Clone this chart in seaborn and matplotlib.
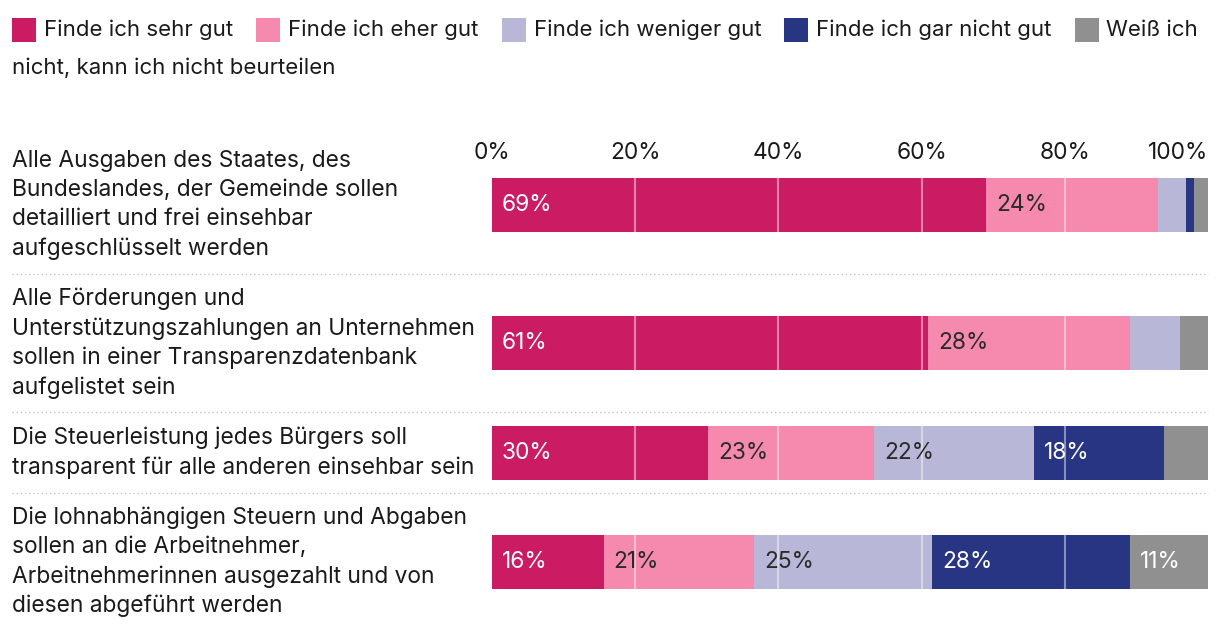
import numpy as np
import pandas as pd
import matplotlib
matplotlib.use("Agg")
import matplotlib.pyplot as plt
import seaborn as sns
from matplotlib.transforms import blended_transform_factory
from matplotlib.patches import Rectangle
from matplotlib.lines import Line2D

# ---------------- data ----------------
categories = [
    "Alle Ausgaben des Staates, des\nBundeslandes, der Gemeinde sollen\ndetailliert und frei einsehbar\naufgeschlüsselt werden",
    "Alle Förderungen und\nUnterstützungszahlungen an Unternehmen\nsollen in einer Transparenzdatenbank\naufgelistet sein",
    "Die Steuerleistung jedes Bürgers soll\ntransparent für alle anderen einsehbar sein",
    "Die lohnabhängigen Steuern und Abgaben\nsollen an die Arbeitnehmer,\nArbeitnehmerinnen ausgezahlt und von\ndiesen abgeführt werden",
]
series_names = [
    "Finde ich sehr gut",
    "Finde ich eher gut",
    "Finde ich weniger gut",
    "Finde ich gar nicht gut",
    "Weiß ich nicht, kann ich nicht beurteilen",
]
sehr_gut = [69.0, 60.9, 30.2, 15.6]
eher_gut = [24.0, 28.2, 23.2, 21.0]
weniger_gut = [3.9, 7.0, 22.3, 24.9]
gar_nicht_gut = [1.1, 0.0, 18.2, 27.6]
weiss_nicht = [2.0, 3.9, 6.1, 10.9]
tick_values = [0, 20, 40, 60, 80, 100]
tick_labels = ["0%", "20%", "40%", "60%", "80%", "100%"]

colors = ["#CB1B63", "#F58AAE", "#B9B7D7", "#283583", "#909090"]
label_colors = ["white", "#2a2a2a", "#2a2a2a", "white", "white"]

# ---------------- style ----------------
sns.set_theme(style="white")
plt.rcParams["font.family"] = ["Inter", "DejaVu Sans"]
FS = 16.4
LEG_FS = 16.0
TXT = "#1a1a1a"

W, H, DPI = 1220, 628, 100
fig = plt.figure(figsize=(W / DPI, H / DPI), dpi=DPI)

ax_left, ax_right, ax_top, ax_bottom = 492, 1208, 168, 620
ax = fig.add_axes([ax_left / W, 1 - ax_bottom / H,
                   (ax_right - ax_left) / W, (ax_bottom - ax_top) / H])

# row layout (pixel units on y)
line_px = 28.5
row_gap = 24
top_px = 136
bar_px = 54
n_lines = [c.count("\n") + 1 for c in categories]
heights = np.array([n * line_px + row_gap for n in n_lines])
edges = top_px + np.concatenate([[0], np.cumsum(heights)])
centers = (edges[:-1] + edges[1:]) / 2
min_sp = np.min(np.diff(centers))

series = [sehr_gut, eher_gut, weniger_gut, gar_nicht_gut, weiss_nicht]
vals = np.array(series)
cums = np.cumsum(vals, axis=0)

for j in range(len(series) - 1, -1, -1):
    df = pd.DataFrame({"pos": centers, "cum": cums[j]})
    sns.barplot(data=df, x="cum", y="pos", orient="y", native_scale=True,
                color=colors[j], saturation=1, width=bar_px / min_sp,
                errorbar=None, linewidth=0, ax=ax, zorder=2)

ax.set_ylim(ax_bottom, ax_top)
ax.set_xlim(0, 100)

# faint white grid lines over bars
for c in centers:
    ax.vlines([20, 40, 60, 80], c - bar_px / 2, c + bar_px / 2,
              colors="white", alpha=0.45, lw=1.5, zorder=4)

# value labels
for j in range(len(series)):
    for i, c in enumerate(centers):
        v = vals[j, i]
        if v >= 10:
            left = cums[j, i] - v
            ax.annotate(f"{v:.0f}%", xy=(left, c), xytext=(10, 0),
                        textcoords="offset pixels", va="center", ha="left",
                        fontsize=FS, color=label_colors[j], zorder=6)

# axes styling
for s in ax.spines.values():
    s.set_visible(False)
ax.set_xlabel("")
ax.set_ylabel("")
ax.set_yticks([])
ax.set_xticks(tick_values, tick_labels)
ax.tick_params(axis="x", top=True, labeltop=True, bottom=False,
               labelbottom=False, length=0, pad=3, labelsize=FS, colors=TXT)
ax.get_xticklabels()[-1].set_horizontalalignment("right")
ax.grid(False)

# category labels and separators
tr = blended_transform_factory(fig.transFigure, ax.transData)
for c, lab in zip(centers, categories):
    ax.text(12 / W, c, lab, transform=tr, ha="left", va="center",
            fontsize=FS, color=TXT, linespacing=1.40, clip_on=False)
for e in edges[1:-1]:
    ax.add_line(Line2D([12 / W, 1208 / W], [e, e], transform=tr,
                       color="#c4c4c4", lw=1, linestyle=(0, (1, 2)),
                       clip_on=False))

# ---------------- legend (flow layout) ----------------
fig.canvas.draw()
renderer = fig.canvas.get_renderer()


def measure(s):
    t = fig.text(0, 0, s, fontsize=LEG_FS)
    w = t.get_window_extent(renderer).width
    t.remove()
    return w


x, y = 12, 30
sq, gap_sq, gap_item, line_h, max_x = 24, 8, 23, 38, 1208
for name, col in zip(series_names, colors):
    fig.add_artist(Rectangle((x / W, 1 - (y + sq / 2) / H), sq / W, sq / H,
                             transform=fig.transFigure, color=col, lw=0))
    x += sq + gap_sq
    words = name.split(" ")
    while words:
        line = []
        while words:
            trial = " ".join(line + [words[0]])
            if line and x + measure(trial) > max_x:
                break
            line.append(words.pop(0))
        s = " ".join(line)
        fig.text(x / W, 1 - y / H, s, fontsize=LEG_FS, color=TXT,
                 ha="left", va="center")
        if words:
            x, y = 12, y + line_h
        else:
            x += measure(s) + gap_item

fig.savefig("out.png", dpi=DPI)
